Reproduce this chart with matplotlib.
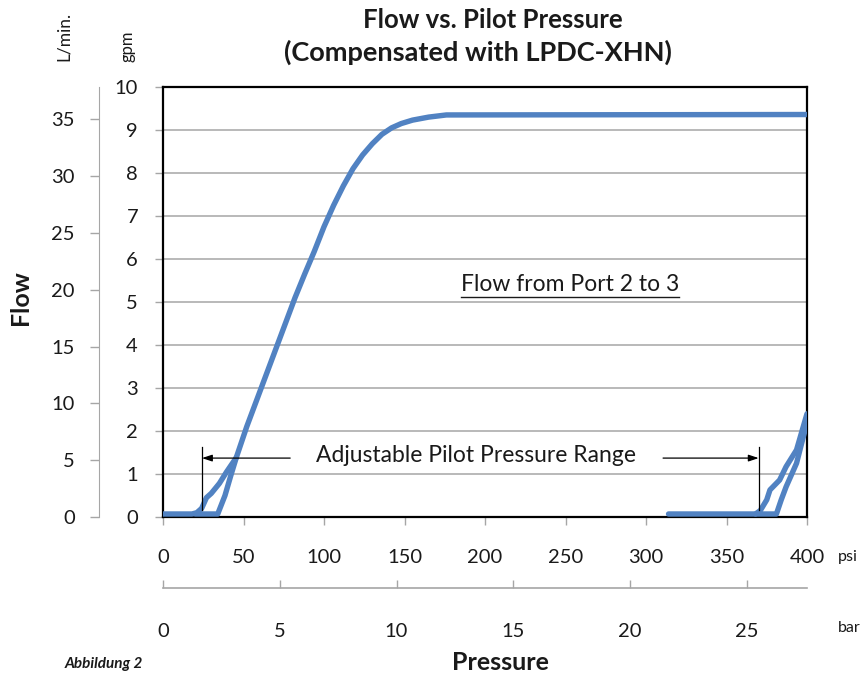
import matplotlib
matplotlib.use("Agg")
import matplotlib.pyplot as plt
from matplotlib.lines import Line2D

plt.rcParams["font.family"] = ["Lato", "DejaVu Sans"]

# Curve: pressure in psi, flow in gpm
rise_psi = [0, 18, 21, 24, 27, 30, 35, 39.5, 45.5, 52, 62, 72, 82, 88, 94, 100,
            106, 112, 118, 124, 130, 136, 142, 148, 155, 165, 176, 400]
rise_gpm = [0.07, 0.07, 0.1, 0.2, 0.45, 0.55, 0.78, 1.05, 1.38, 2.1, 3.1, 4.1,
            5.1, 5.65, 6.18, 6.75, 7.25, 7.7, 8.1, 8.42, 8.68, 8.9, 9.05, 9.15,
            9.23, 9.3, 9.35, 9.36]
left_low_psi = [20, 34, 38.5, 42, 45.5]
left_low_gpm = [0.07, 0.07, 0.5, 0.95, 1.38]
right_up_psi = [314, 368, 371, 375, 377, 383, 387, 393.5, 400]
right_up_gpm = [0.07, 0.07, 0.15, 0.4, 0.63, 0.86, 1.17, 1.56, 2.4]
right_low_psi = [368, 381, 384, 387, 393.5, 400]
right_low_gpm = [0.07, 0.07, 0.4, 0.7, 1.25, 2.2]

gpm_ticks = list(range(0, 11))
lpm_ticks = [0, 5, 10, 15, 20, 25, 30, 35]
psi_ticks = [0, 50, 100, 150, 200, 250, 300, 350, 400]
bar_ticks = [0, 5, 10, 15, 20, 25]

GPM_TO_LPM = 3.78541
PSI_PER_BAR = 14.5038

# annotation positions (psi, gpm)
range_lo, range_hi = 24.2, 370
arrow_y = 1.37
bracket_top, bracket_bot = 1.63, 0.16

W, H = 866, 673
fig = plt.figure(figsize=(W / 100, H / 100), dpi=100)
ax = fig.add_axes([163 / W, 1 - 517 / H, 644 / W, 430 / H])

blue = "#5182c2"
grey = "#a6a6a6"
txt = "#1a1a1a"

for xs, ys in [(rise_psi, rise_gpm), (left_low_psi, left_low_gpm),
               (right_up_psi, right_up_gpm), (right_low_psi, right_low_gpm)]:
    ax.plot(xs, ys, color=blue, lw=3.9, solid_capstyle="round",
            solid_joinstyle="round", zorder=3)

ax.set_xlim(0, 400)
ax.set_ylim(0, 10)
ax.set_yticks(gpm_ticks)
ax.set_xticks(psi_ticks)
ax.grid(axis="y", color=grey, lw=1.1)
ax.set_axisbelow(True)
for s in ax.spines.values():
    s.set_linewidth(1.6)
    s.set_color("black")
ax.tick_params(axis="y", direction="out", length=6, width=1, color=grey,
               pad=12, labelsize=14.5, labelcolor=txt)
ax.tick_params(axis="x", direction="out", length=6, width=1, color=grey,
               pad=17, labelsize=14.5, labelcolor=txt)

# L/min axis on the far left
ax_l = ax.twinx()
ax_l.set_ylim(0, 10 * GPM_TO_LPM)
ax_l.set_yticks(lpm_ticks)
ax_l.yaxis.tick_left()
ax_l.spines["left"].set_position(("axes", -64 / 644))
for side in ["right", "top", "bottom"]:
    ax_l.spines[side].set_visible(False)
ax_l.spines["left"].set_color(grey)
ax_l.tick_params(axis="y", direction="out", length=6.5, width=1, color=grey,
                 pad=11, labelsize=14.5, labelcolor=txt)

# bar axis below the psi axis
ax_b = ax.twiny()
ax_b.set_xlim(0, 400 / PSI_PER_BAR)
ax_b.set_xticks(bar_ticks)
ax_b.xaxis.tick_bottom()
ax_b.spines["bottom"].set_position(("axes", -71 / 430))
for side in ["right", "top", "left"]:
    ax_b.spines[side].set_visible(False)
ax_b.spines["bottom"].set_color(grey)
ax_b.spines["bottom"].set_linewidth(1.2)
ax_b.tick_params(axis="x", direction="in", length=6, width=1, color=grey,
                 pad=25, labelsize=14.5, labelcolor=txt)

# range brackets and arrows
for px in [range_lo, range_hi]:
    ax.plot([px, px], [bracket_bot, bracket_top], color="black", lw=0.9, zorder=4)
ax.annotate("", xy=(range_lo, arrow_y), xytext=(79, arrow_y),
            arrowprops=dict(arrowstyle="-|>,head_length=0.6,head_width=0.2",
                            color="black", lw=0.9, shrinkA=0, shrinkB=0))
ax.annotate("", xy=(range_hi, arrow_y), xytext=(310.6, arrow_y),
            arrowprops=dict(arrowstyle="-|>,head_length=0.6,head_width=0.2",
                            color="black", lw=0.9, shrinkA=0, shrinkB=0))
ax.text(194.5, arrow_y + 0.05, "Adjustable Pilot Pressure Range", ha="center",
        va="center", fontsize=16.5, color=txt)

note = ax.text(253, 5.4, "Flow from Port 2 to 3", ha="center", va="center",
               fontsize=16.5, color=txt)

# titles and axis names
fig.text(493 / W, 1 - 20 / H, "Flow vs. Pilot Pressure", ha="center",
         va="center", fontsize=18.5, fontweight="bold", color=txt)
fig.text(478 / W, 1 - 52 / H, "(Compensated with LPDC-XHN)", ha="center",
         va="center", fontsize=19.5, fontweight="bold", color=txt)
fig.text(20 / W, 1 - 298 / H, "Flow", rotation=90, ha="center", va="center",
         fontsize=18, fontweight="bold", color=txt)
fig.text(64 / W, 1 - 36 / H, "L/min.", rotation=90, ha="center", va="center",
         fontsize=12.5, color=txt)
fig.text(128 / W, 1 - 46 / H, "gpm", rotation=90, ha="center", va="center",
         fontsize=12, color=txt)
fig.text(838 / W, 1 - 557 / H, "psi", ha="left", va="center", fontsize=11.5,
         color=txt)
fig.text(838 / W, 1 - 628 / H, "bar", ha="left", va="center", fontsize=11.5,
         color=txt)
fig.text(500 / W, 1 - 662 / H, "Pressure", ha="center", va="center",
         fontsize=18, fontweight="bold", color=txt)
fig.text(65 / W, 1 - 671 / H, "Abbildung 2", ha="left", va="bottom",
         fontsize=11, fontweight="bold", fontstyle="italic", color=txt)

# underline for the note
fig.canvas.draw()
bb = note.get_window_extent().transformed(fig.transFigure.inverted())
fig.add_artist(Line2D([bb.x0, bb.x1], [bb.y0 - 1.5 / H] * 2,
                      transform=fig.transFigure, color=txt, lw=1.0))

fig.savefig("out.png", dpi=100)
